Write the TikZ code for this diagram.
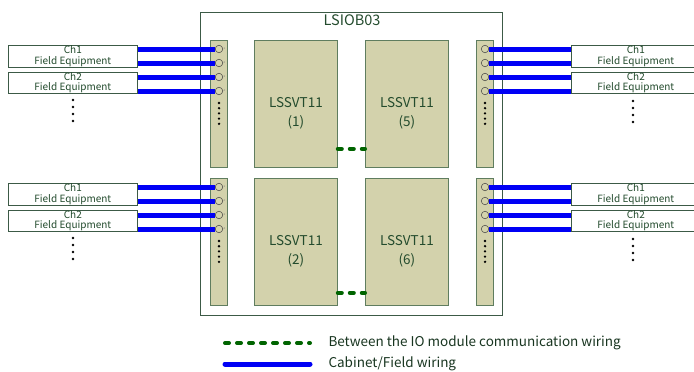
\documentclass[tikz,border=0pt]{standalone}
\usepackage{fontspec}
\setmainfont{Noto Sans CJK JP}
\usetikzlibrary{positioning}
\definecolor{stripfill}{RGB}{211,210,172}
\definecolor{stripline}{RGB}{95,125,95}
\definecolor{framegreen}{RGB}{60,90,70}
\definecolor{textgreen}{RGB}{35,75,45}
\definecolor{wireblue}{RGB}{0,0,245}
\definecolor{linkgreen}{RGB}{0,100,0}
\tikzset{
  unitbox/.style={draw=stripline, fill=stripfill, line width=0.8pt, inner sep=0pt, anchor=north west},
  modbox/.style={unitbox, minimum width=83pt, minimum height=127pt},
  modlabel/.style={text=textgreen, align=center, inner sep=0pt, font=\fontsize{13.5}{19}\selectfont},
  stripbox/.style={unitbox, minimum width=17pt, minimum height=127pt},
  fieldbox/.style={draw=framegreen, fill=white, line width=0.6pt, inner sep=0pt, anchor=north west,
    minimum width=129pt, align=center, text=textgreen, font=\fontsize{10}{10.5}\selectfont},
  term/.style={circle, draw=black!75, line width=0.5pt, minimum size=7.5pt, inner sep=0pt},
  pinno/.style={inner sep=0pt, text=black!60, font=\fontsize{2.5}{3}\selectfont},
  wire/.style={wireblue, line width=5pt},
  link/.style={linkgreen, line width=4pt, line cap=round, dash pattern=on 4pt off 8pt},
  dotmark/.style={circle, fill=black, inner sep=0pt, minimum size=2.6pt},
  legendtext/.style={text=textgreen!70!black, font=\fontsize{13.5}{15}\selectfont}
}
\begin{document}
\begin{tikzpicture}[x=1pt, y=-1pt]
  \useasboundingbox (0,0) rectangle (694,372);

  % LSIOB03 frame
  \draw[framegreen, line width=0.7pt] (200,12) rectangle (502,315);
  \node[text=textgreen, font=\fontsize{14.5}{16}\selectfont] (title) at (352,20) {LSIOB03};

  % LSSVT11 modules
  \node[modbox] (m1) at (254,40) {};
  \node[modbox] (m5) at (365,40) {};
  \node[modbox] (m2) at (254,178) {};
  \node[modbox] (m6) at (365,178) {};
  \node[modlabel] (l1) at ([yshift=-9pt]m1.center) {LSSVT11\\(1)};
  \node[modlabel] (l5) at ([yshift=-9pt]m5.center) {LSSVT11\\(5)};
  \node[modlabel] (l2) at ([yshift=-9pt]m2.center) {LSSVT11\\(2)};
  \node[modlabel] (l6) at ([yshift=-9pt]m6.center) {LSSVT11\\(6)};
  \draw[link] ([yshift=19pt]m1.south east) -- ([yshift=19pt]m5.south west);
  \draw[link] ([yshift=13pt]m2.south east) -- ([yshift=13pt]m6.south west);

  % terminal strips and field wiring
  \foreach \g/\dy in {t/0, b/138} {
    \node[stripbox] (sl\g) at (210,40+\dy) {};
    \node[stripbox] (sr\g) at (476,40+\dy) {};
    \node[fieldbox, minimum height=22pt] (fl\g1) at (8,45+\dy) {Ch1\\Field Equipment};
    \node[fieldbox, minimum height=21pt] (fl\g2) at (8,72+\dy) {Ch2\\Field Equipment};
    \node[fieldbox, minimum height=22pt] (fr\g1) at (571,45+\dy) {Ch1\\Field Equipment};
    \node[fieldbox, minimum height=21pt] (fr\g2) at (571,72+\dy) {Ch2\\Field Equipment};
    \foreach \i/\f in {1/1, 2/1, 3/2, 4/2} {
      \node[term] (tl\g\i) at (219,35+14*\i+\dy) {};
      \node[term] (tr\g\i) at (485,35+14*\i+\dy) {};
      \node[pinno, right=0.3pt of tl\g\i] {\i};
      \node[pinno, right=0.3pt of tr\g\i] {\i};
      \draw[wire] (tl\g\i.west) -- (tl\g\i.west -| fl\g\f.east);
      \draw[wire] (tr\g\i.east) -- (tr\g\i.east -| fr\g\f.west);
    }
    \foreach \k in {0,...,4} {
      \node[dotmark] at (219,103+5.2*\k+\dy) {};
      \node[dotmark] at (485,103+5.2*\k+\dy) {};
    }
    \foreach \k in {0,...,3} {
      \node[dotmark] at (73,100+7*\k+\dy) {};
      \node[dotmark] at (633,101+7*\k+\dy) {};
    }
  }

  % legend
  \coordinate (lga) at (225,343);
  \coordinate (lgb) at (310,343);
  \coordinate (lgc) at (225,364);
  \coordinate (lgd) at (310,364);
  \draw[link] (lga) -- (lgb);
  \draw[wire, line cap=round] (lgc) -- (lgd);
  \node[legendtext, right=15pt of lgb] (lgtext1) {Between the IO module communication wiring};
  \node[legendtext, right=15pt of lgd] (lgtext2) {Cabinet/Field wiring};
\end{tikzpicture}
\end{document}
